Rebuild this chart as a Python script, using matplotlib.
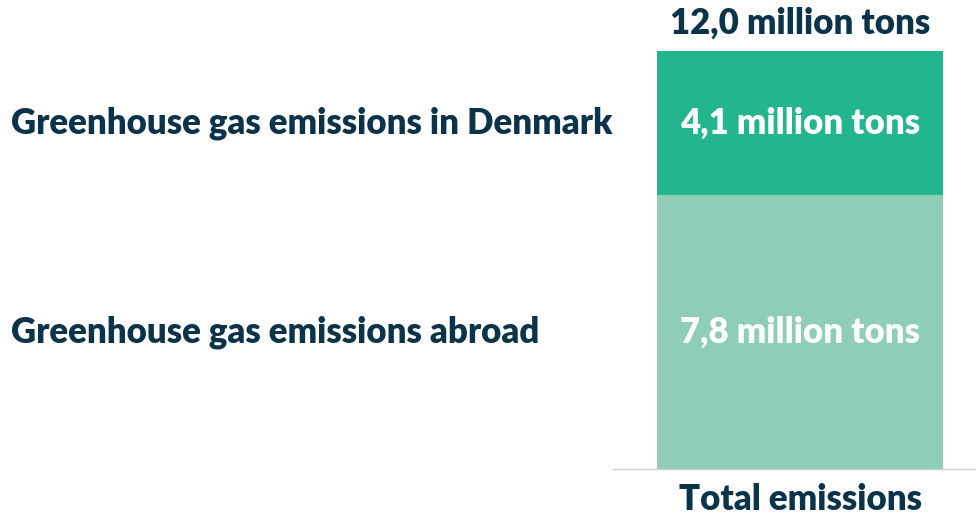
import matplotlib.pyplot as plt
from matplotlib import transforms

plt.rcParams['font.family'] = ['Lato', 'DejaVu Sans']

# data
category = ['Total emissions']
segments = ['Greenhouse gas emissions abroad', 'Greenhouse gas emissions in Denmark']
values = [7.8, 4.1]
value_labels = ['7,8 million tons', '4,1 million tons']
total_label = '12,0 million tons'
colors = ['#8ecdb6', '#22b58e']

dark = '#0b3349'
fs = 25
fw = 'heavy'

fig = plt.figure(figsize=(9.76, 5.17), dpi=100)
ax = fig.add_axes([613 / 976, 1 - 469 / 517, 1 - 613 / 976, 469 / 517])

trans = transforms.blended_transform_factory(fig.transFigure, ax.transData)
bottom = 0
for val, lab, col, seg in zip(values, value_labels, colors, segments):
    ax.bar(0, val, width=0.8, bottom=bottom, color=col)
    mid = bottom + val / 2
    ax.text(0, mid, lab, ha='center', va='center', color='white',
            fontsize=fs, fontweight=fw)
    # segment label at the left of the figure
    ax.text(11 / 976, mid, seg, transform=trans, ha='left', va='center',
            color=dark, fontsize=fs, fontweight=fw, clip_on=False)
    bottom += val

ax.text(0, bottom + 0.3, total_label, ha='center', va='bottom', color=dark,
        fontsize=fs, fontweight=fw)

ax.set_xlim(-0.523, 0.492)
ax.set_ylim(0, 469 / 35.15)
ax.set_xticks([0])
ax.set_xticklabels(category, fontsize=fs, fontweight=fw, color=dark)
ax.tick_params(axis='x', length=0, pad=10)
ax.set_yticks([])
for side in ['left', 'right', 'top']:
    ax.spines[side].set_visible(False)
ax.spines['bottom'].set_color('#cccccc')
ax.spines['bottom'].set_linewidth(1)

fig.savefig('out.png', dpi=100)
